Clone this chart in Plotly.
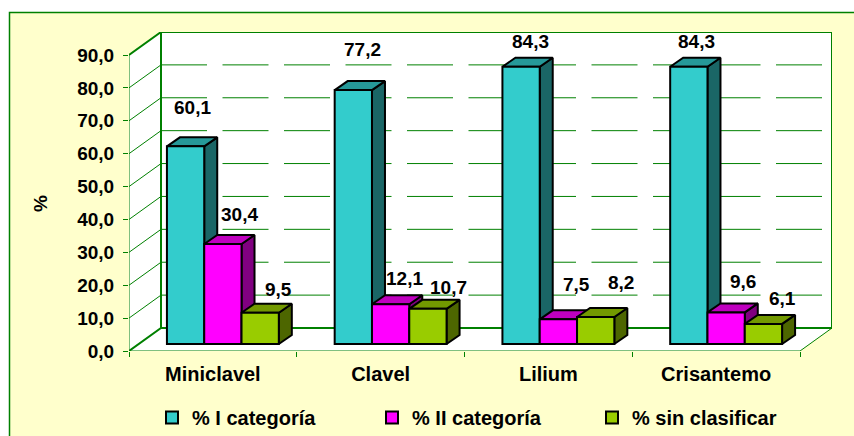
import plotly.graph_objects as go

categories = ["Miniclavel", "Clavel", "Lilium", "Crisantemo"]
series_names = ["% I categoría", "% II categoría", "% sin clasificar"]
primera = [60.1, 77.2, 84.3, 84.3]
segunda = [30.4, 12.1, 7.5, 9.6]
sin_clasificar = [9.5, 10.7, 8.2, 6.1]
y_ticks = [0, 10, 20, 30, 40, 50, 60, 70, 80, 90]
y_labels = ["0,0", "10,0", "20,0", "30,0", "40,0", "50,0", "60,0", "70,0", "80,0", "90,0"]

# ---- layout / style (not data) ----
W, H = 854, 436
L, R, T, B = 129, 832, 32, 351          # pixel box of the plot area
PX_X = (800 - 129) / 4                  # pixels per category
PX_Y = (351 - 55) / 90                  # pixels per percent
XMAX, YMAX = (R - L) / PX_X, (B - T) / PX_Y
WALL_DX, WALL_DY = 32 / PX_X, 23 / PX_Y  # depth of the box
BAR_FX, BAR_FY = 10 / PX_X, 7 / PX_Y     # front plane of the bars
BAR_DX, BAR_DY = 13 / PX_X, 9 / PX_Y     # depth of the bars
BAR_W = 37.3 / PX_X
GREEN = "#008000"
FONT = dict(family="Liberation Sans", size=19, color="black", weight=700)
FONT_WIDE = dict(FONT, size=20)
front = ["#33CCCC", "#FF00FF", "#99CC00"]
top = ["#269999", "#BF00BF", "#739900"]
side = ["#1A6666", "#800080", "#4D6600"]
# pixel shifts of the value labels, from the top of each front face centre
lab_dx = [[7, 9, 9, 8], [17, 14, 18, 17], [18, 21, 25, 19]]
lab_dy = [[39, 41, 25, 25], [30, 26, 35, 31], [23, 21, 35, 25]]


def px(v):
    return (v - L) / (R - L)


def py(v):
    return (B - v) / (B - T)


series = [primera, segunda, sin_clasificar]
fig = go.Figure()


def line(xs, ys, color=GREEN, width=1, dash=None):
    fig.add_trace(go.Scatter(x=xs, y=ys, mode="lines", showlegend=False, hoverinfo="skip",
                             line=dict(color=color, width=width, dash=dash)))


# box: white walls and floor
fig.add_trace(go.Scatter(
    x=[0, 0, WALL_DX, XMAX, XMAX, XMAX - WALL_DX, 0],
    y=[0, 90, 90 + WALL_DY, 90 + WALL_DY, WALL_DY, 0, 0],
    mode="lines", fill="toself", fillcolor="white", line=dict(width=0),
    showlegend=False, hoverinfo="skip"))
for v in y_ticks[1:-1]:
    line([0, WALL_DX], [v, v + WALL_DY])
    line([WALL_DX, XMAX], [v + WALL_DY, v + WALL_DY], dash="46px,15.5px")
line([0, 0], [0, 90])
line([XMAX - WALL_DX, XMAX], [0, WALL_DY])
line([0, XMAX - WALL_DX], [0, 0])
line([0, WALL_DX, WALL_DX], [90, 90 + WALL_DY, WALL_DY], width=2)
line([0, WALL_DX, XMAX], [0, WALL_DY, WALL_DY], width=2)
line([WALL_DX, XMAX, XMAX], [90 + WALL_DY, 90 + WALL_DY, WALL_DY], width=2)

# side and top faces of the bars
for k, vals in enumerate(series):
    sx, sy, tx, ty = [], [], [], []
    for i, v in enumerate(vals):
        x0 = i + 0.5 + BAR_FX + (k - 1.5) * BAR_W
        x1 = x0 + BAR_W
        sx += [x1, x1 + BAR_DX, x1 + BAR_DX, x1, x1, None]
        sy += [BAR_FY, BAR_FY + BAR_DY, v + BAR_FY + BAR_DY, v + BAR_FY, BAR_FY, None]
        tx += [x0, x0 + BAR_DX, x1 + BAR_DX, x1, x0, None]
        ty += [v + BAR_FY, v + BAR_FY + BAR_DY, v + BAR_FY + BAR_DY, v + BAR_FY, v + BAR_FY, None]
    for xs, ys, c in ((sx, sy, side[k]), (tx, ty, top[k])):
        fig.add_trace(go.Scatter(x=xs, y=ys, mode="lines", fill="toself", fillcolor=c,
                                 line=dict(color="black", width=2),
                                 showlegend=False, hoverinfo="skip"))

# front faces
for k, vals in enumerate(series):
    fig.add_trace(go.Bar(
        x=[i + 0.5 + BAR_FX for i in range(4)], y=vals, base=BAR_FY,
        width=BAR_W, offset=(k - 1.5) * BAR_W, name=series_names[k],
        marker=dict(color=front[k], line=dict(color="black", width=2)),
        xaxis="x2", yaxis="y2"))

annotations = []
for k, vals in enumerate(series):
    for i, v in enumerate(vals):
        annotations.append(dict(
            x=i + 0.5 + BAR_FX + (k - 1) * BAR_W, y=v + BAR_FY, xref="x2", yref="y2",
            text=f"{v:.1f}".replace(".", ","), showarrow=False, font=FONT,
            xshift=lab_dx[k][i], yshift=lab_dy[k][i]))
annotations.append(dict(x=px(41), y=py(204), xref="paper", yref="paper", text="%",
                        xanchor="center", yanchor="middle",
                        showarrow=False, textangle=-90, font=FONT))

fig.update_layout(
    width=W, height=H, autosize=False,
    margin=dict(l=L, r=W - R, t=T, b=H - B),
    paper_bgcolor="white", plot_bgcolor="rgba(0,0,0,0)",
    barmode="overlay", font=FONT, annotations=annotations,
    shapes=[dict(type="rect", xref="paper", yref="paper", layer="below",
                 x0=px(9.5), x1=px(880), y0=py(460), y1=py(12.5),
                 fillcolor="#FFFFCC", line=dict(color=GREEN, width=1.5))],
    xaxis=dict(range=[0, XMAX], showgrid=False, zeroline=False, showline=False,
               tickvals=[i + 0.5 for i in range(4)], ticktext=categories,
               ticks="outside", ticklen=5, tickcolor="rgba(0,0,0,0)", tickfont=FONT_WIDE,
               minor=dict(tickvals=[0, 1, 2, 3, 4], ticks="outside", ticklen=5,
                          tickcolor=GREEN, tickwidth=1)),
    yaxis=dict(range=[0, YMAX], showgrid=False, zeroline=False, showline=False,
               tickvals=y_ticks, ticktext=y_labels, ticks="outside", ticklen=5,
               tickcolor=GREEN, tickwidth=1, tickfont=FONT, ticklabelstandoff=5),
    xaxis2=dict(range=[0, XMAX], overlaying="x", visible=False),
    yaxis2=dict(range=[0, YMAX], overlaying="y", visible=False),
    legend=dict(orientation="h", xref="container", yref="container",
                x=152 / W, xanchor="left", y=1 - 398 / H, yanchor="top",
                entrywidth=175, entrywidthmode="pixels", font=FONT_WIDE,
                bgcolor="rgba(0,0,0,0)"),
)
fig.write_html("out.html", config=dict(displayModeBar=False),
               post_script="document.body.style.margin='0';document.body.style.overflow='hidden';")
